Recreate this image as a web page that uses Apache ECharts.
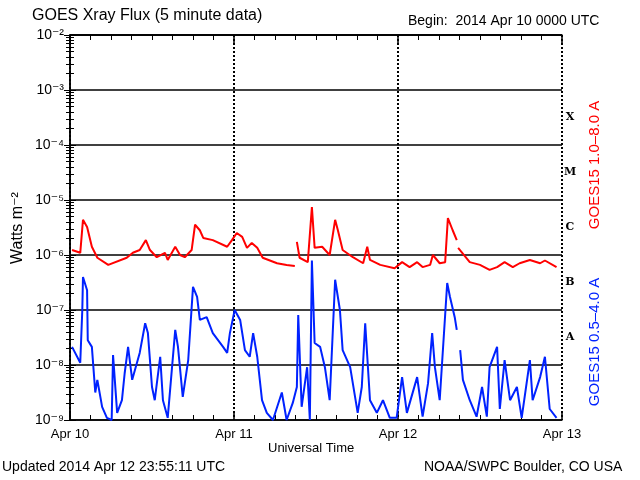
<!DOCTYPE html><html><head><meta charset="utf-8">
<script src="https://cdn.jsdelivr.net/npm/echarts@6/dist/echarts.min.js"></script>
<style>html,body{margin:0;background:#fff}#c{width:640px;height:480px}</style></head><body><div id="c"></div>
<script>
const dayLabels=['Apr 10','Apr 11','Apr 12','Apr 13'];
const yTickExp=[-9,-8,-7,-6,-5,-4,-3,-2];
const classLabels=['A','B','C','M','X'];
// hours since 2014 Apr 10 00:00, log10 flux (null = gap)
const longHours=[0.3,1.5,1.9,2.5,3.2,4.0,5.6,8.3,9.2,10.2,11.1,11.7,12.7,13.9,14.3,15.4,16.1,16.8,17.8,18.3,19.0,19.5,20.9,23.0,23.7,24.4,25.2,25.9,26.6,27.4,28.2,30.3,31.7,32.9,33.0,33.2,33.6,34.8,35.4,35.8,36.9,38.0,38.8,39.2,39.9,41.4,42.9,43.5,43.9,45.4,47.5,48.6,49.7,50.8,51.6,52.7,53.1,54.1,54.9,55.3,56.0,56.6,56.7,56.8,58.5,60.0,61.4,62.5,63.6,64.8,65.8,67.3,68.8,69.5,71.2];
const longExp=[-5.91,-5.96,-5.36,-5.49,-5.85,-6.05,-6.18,-6.05,-5.96,-5.91,-5.73,-5.91,-6.04,-5.96,-6.09,-5.85,-6.0,-6.04,-5.91,-5.45,-5.55,-5.69,-5.73,-5.85,-5.73,-5.6,-5.67,-5.87,-5.78,-5.87,-6.05,-6.15,-6.18,-6.2,null,-5.76,-6.05,-6.13,-5.13,-5.87,-5.85,-6.0,-5.36,-5.55,-5.91,-6.04,-6.15,-5.85,-6.09,-6.18,-6.24,-6.13,-6.22,-6.13,-6.22,-6.18,-6.0,-6.15,-6.13,-5.33,-5.55,-5.73,null,-5.87,-6.13,-6.18,-6.27,-6.22,-6.13,-6.22,-6.15,-6.09,-6.15,-6.1,-6.22];
const shortHours=[0.3,1.5,1.8,1.9,2.5,2.6,3.2,3.7,4.0,4.7,5.4,6.1,6.3,6.9,7.6,8.0,8.5,9.1,9.8,10.2,11.0,11.4,12.0,12.4,13.2,13.6,14.3,15.4,15.8,16.5,17.3,18.0,18.6,19.0,20.0,20.9,22.4,23.0,23.4,24.1,24.9,25.6,26.3,26.8,27.4,28.1,28.8,29.7,31.0,31.7,32.6,33.2,33.4,33.9,34.7,35.1,35.4,35.8,36.6,37.3,38.0,38.8,39.5,39.9,41.0,42.1,42.7,43.2,43.9,44.9,45.8,46.8,47.8,48.6,49.3,50.8,51.6,52.4,53.0,53.4,54.1,55.2,55.6,56.3,56.6,56.8,57.1,57.5,58.5,59.5,60.3,61.0,61.4,62.5,62.9,63.6,64.4,65.4,66.1,67.3,67.7,68.8,69.5,70.2,71.2];
const shortExp=[-7.67,-7.96,-7.0,-6.4,-6.64,-7.55,-7.67,-8.5,-8.27,-8.76,-8.96,-9.0,-7.82,-8.87,-8.64,-8.15,-7.67,-8.27,-7.96,-7.78,-7.24,-7.42,-8.4,-8.64,-7.85,-8.64,-8.96,-7.36,-7.67,-8.58,-7.91,-6.58,-6.76,-7.18,-7.13,-7.42,-7.67,-7.78,-7.42,-7.0,-7.18,-7.73,-7.85,-7.42,-7.85,-8.64,-8.87,-9.0,-8.5,-9.0,-8.69,-8.4,-7.09,-8.76,-8.04,-9.0,-6.1,-7.6,-7.67,-8.04,-8.64,-6.45,-7.0,-7.73,-8.04,-8.87,-8.4,-7.24,-8.64,-8.87,-8.64,-8.96,-8.96,-8.22,-8.87,-8.22,-8.94,-8.33,-7.42,-8.04,-8.64,-6.51,-6.76,-7.13,-7.36,null,-7.73,-8.27,-8.64,-8.94,-8.4,-8.94,-8.04,-7.67,-8.8,-7.91,-8.64,-8.4,-8.96,-7.91,-8.64,-8.22,-7.85,-8.8,-8.96];
const toPts=(h,e)=>h.map((x,i)=>[x,e[i]==null?null:Math.pow(10,e[i])]);
const sup={'-':'⁻','0':'⁰','1':'¹','2':'²','3':'³','4':'⁴','5':'⁵','6':'⁶','7':'⁷','8':'⁸','9':'⁹'};
const F='Liberation Sans, DejaVu Sans, sans-serif';
const ch=echarts.init(document.getElementById('c'));
const xBase={type:'value',min:0,max:72,interval:24,axisLine:{show:true,lineStyle:{color:'#000',width:1.5}},
 axisTick:{show:true,inside:true,length:8,lineStyle:{color:'#000',width:1.5}},
 minorTick:{show:true,splitNumber:8,length:5,lineStyle:{color:'#000'}}};
const yBase={type:'log',min:1e-9,max:1e-2,logBase:10,interval:1,axisLine:{show:true,lineStyle:{color:'#000',width:1.5}},
 axisTick:{show:true,inside:true,length:6,lineStyle:{color:'#000'}},
 minorTick:{show:true,splitNumber:9,length:4,lineStyle:{color:'#000'}}};
ch.setOption({animation:false,backgroundColor:'#fff',
 grid:{left:70,right:78,top:35,bottom:60},
 xAxis:[Object.assign({},xBase,{position:'bottom',
   axisLabel:{color:'#000',fontFamily:F,fontSize:13,margin:8,formatter:v=>dayLabels[Math.round(v/24)]},
   splitLine:{show:true,lineStyle:{color:'#000',type:[2,2],width:2}}}),
  Object.assign({},xBase,{position:'top',axisLabel:{show:false},splitLine:{show:false}})],
 yAxis:[Object.assign({},yBase,{position:'left',
   axisLabel:{color:'#000',fontFamily:F,fontSize:14,margin:6,formatter:v=>'10'+String(Math.round(Math.log10(v))).split('').map(c=>sup[c]).join('')},
   splitLine:{show:true,lineStyle:{color:'#000',width:1.5}}}),
  Object.assign({},yBase,{position:'right',axisLabel:{show:false},splitLine:{show:false}})],
 series:[
  {type:'line',name:'long',data:toPts(longHours,longExp),showSymbol:false,connectNulls:false,lineStyle:{color:'#ff0000',width:2},z:3},
  {type:'line',name:'short',data:toPts(shortHours,shortExp),showSymbol:false,connectNulls:false,lineStyle:{color:'#0022ff',width:2},z:3}],
 graphic:[
  {type:'text',left:32,top:8,style:{text:'GOES Xray Flux (5 minute data)',font:'16px '+F,fill:'#000'}},
  {type:'text',left:408,top:14,style:{text:'Begin:  2014 Apr 10 0000 UTC',font:'14px '+F,fill:'#000'}},
  {type:'text',left:268,top:442,style:{text:'Universal Time',font:'13px '+F,fill:'#000'}},
  {type:'text',left:2,top:460,style:{text:'Updated 2014 Apr 12 23:55:11 UTC',font:'14px '+F,fill:'#000'}},
  {type:'text',left:424,top:460,style:{text:'NOAA/SWPC Boulder, CO USA',font:'14px '+F,fill:'#000'}},
  {type:'text',x:18,y:228,rotation:Math.PI/2,style:{text:'Watts m⁻²',font:'16px '+F,fill:'#000',align:'center',verticalAlign:'middle'}},
  {type:'text',x:595,y:165,rotation:Math.PI/2,style:{text:'GOES15 1.0–8.0 A',font:'15px '+F,fill:'#ff0000',align:'center',verticalAlign:'middle'}},
  {type:'text',x:595,y:342,rotation:Math.PI/2,style:{text:'GOES15 0.5–4.0 A',font:'15px '+F,fill:'#0022ff',align:'center',verticalAlign:'middle'}},
  ...classLabels.map((t,i)=>({type:'text',x:570,y:337-i*55,style:{text:t,font:'bold 11px DejaVu Serif, serif',fill:'#000',align:'center',verticalAlign:'middle'}}))
 ]});
</script></body></html>
